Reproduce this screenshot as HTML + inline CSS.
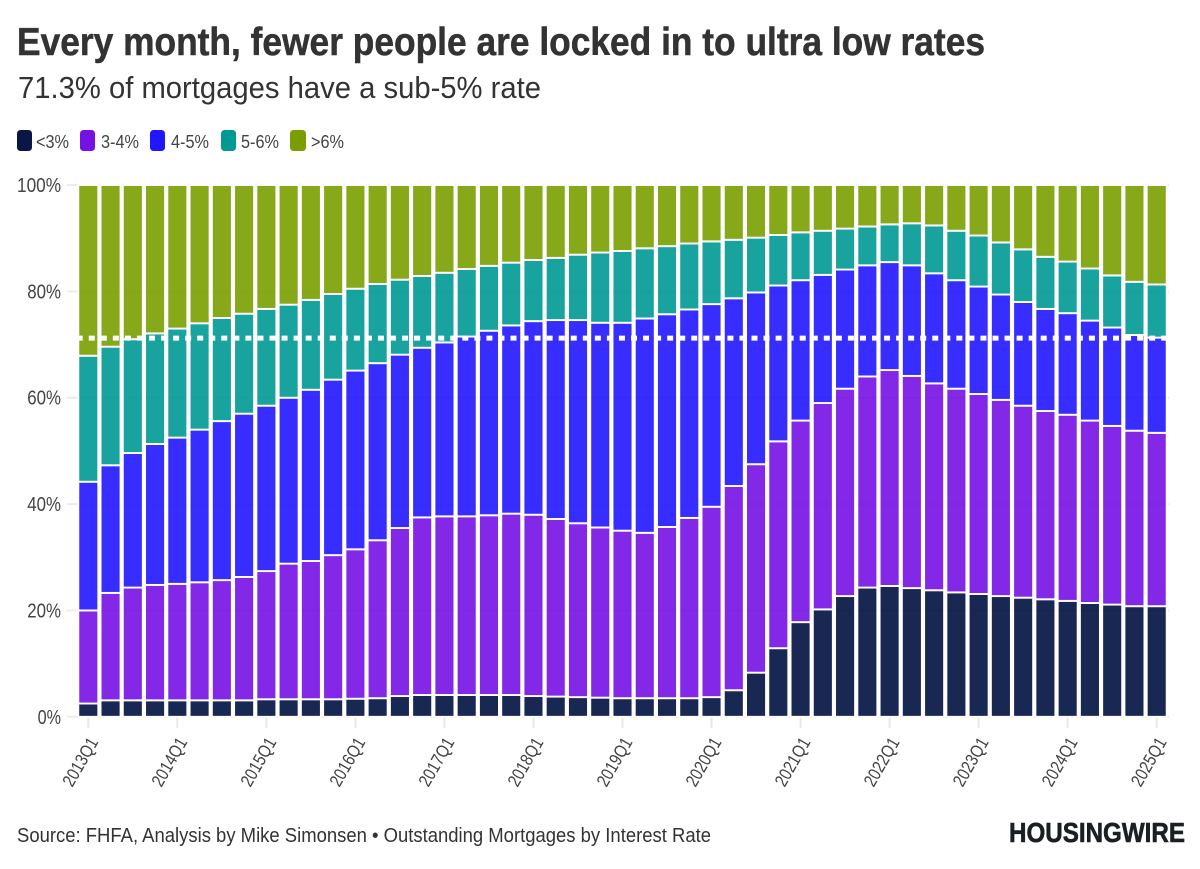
<!DOCTYPE html>
<html lang="en">
<head>
<meta charset="utf-8">
<title>Every month, fewer people are locked in to ultra low rates</title>
<style>
  html, body { margin: 0; padding: 0; background: #fff; }
  svg { display: block; }
  text { font-family: "Liberation Sans Narrow", "Liberation Sans", sans-serif; }
</style>
</head>
<body>
<svg id="chart" xmlns="http://www.w3.org/2000/svg" width="1200" height="869" viewBox="0 0 1200 869">
  <rect x="0" y="0" width="1200" height="869" fill="#ffffff"/>
  <text x="17" y="55" font-size="39" font-weight="700" fill="#333333" stroke="#333333" stroke-width="0.5" textLength="968" lengthAdjust="spacingAndGlyphs">Every month, fewer people are locked in to ultra low rates</text>
  <text x="18" y="98" font-size="31" fill="#333333" textLength="523" lengthAdjust="spacingAndGlyphs">71.3% of mortgages have a sub-5% rate</text>

  <g>
    <g>
      <rect x="17" y="130" width="15" height="21" rx="3.5" fill="#0a1746"/>
      <text x="36" y="148" font-size="18.5" fill="#444444" textLength="33" lengthAdjust="spacingAndGlyphs">&lt;3%</text>
    </g>
    <g>
      <rect x="80" y="130" width="15" height="21" rx="3.5" fill="#7611e3"/>
      <text x="101" y="148" font-size="18.5" fill="#444444" textLength="38" lengthAdjust="spacingAndGlyphs">3-4%</text>
    </g>
    <g>
      <rect x="150" y="130" width="15" height="21" rx="3.5" fill="#2116ff"/>
      <text x="171" y="148" font-size="18.5" fill="#444444" textLength="38" lengthAdjust="spacingAndGlyphs">4-5%</text>
    </g>
    <g>
      <rect x="221" y="130" width="15" height="21" rx="3.5" fill="#009993"/>
      <text x="241" y="148" font-size="18.5" fill="#444444" textLength="38" lengthAdjust="spacingAndGlyphs">5-6%</text>
    </g>
    <g>
      <rect x="290" y="130" width="16" height="21" rx="3.5" fill="#7a9e00"/>
      <text x="311" y="148" font-size="18.5" fill="#444444" textLength="33" lengthAdjust="spacingAndGlyphs">&gt;6%</text>
    </g>
  </g>

  <g id="grid"></g>
  <g id="yticks"></g>
  <g id="xticks"></g>
  <g id="bars"></g>
  <line id="refline" stroke="#ffffff" stroke-width="5" stroke-dasharray="6 6.05"/>

  <text x="17" y="842" font-size="20" fill="#333333" textLength="694" lengthAdjust="spacingAndGlyphs">Source: FHFA, Analysis by Mike Simonsen • Outstanding Mortgages by Interest Rate</text>
  <text x="1009" y="842" font-size="27.5" font-weight="700" fill="#1a2022" stroke="#1a2022" stroke-width="0.6" textLength="176" lengthAdjust="spacingAndGlyphs">HOUSINGWIRE</text>
</svg>
<script>
const categories = [
  "2013Q1","2013Q2","2013Q3","2013Q4","2014Q1","2014Q2","2014Q3","2014Q4",
  "2015Q1","2015Q2","2015Q3","2015Q4","2016Q1","2016Q2","2016Q3","2016Q4",
  "2017Q1","2017Q2","2017Q3","2017Q4","2018Q1","2018Q2","2018Q3","2018Q4",
  "2019Q1","2019Q2","2019Q3","2019Q4","2020Q1","2020Q2","2020Q3","2020Q4",
  "2021Q1","2021Q2","2021Q3","2021Q4","2022Q1","2022Q2","2022Q3","2022Q4",
  "2023Q1","2023Q2","2023Q3","2023Q4","2024Q1","2024Q2","2024Q3","2024Q4",
  "2025Q1"
];
const under3 = [2.5,3.1,3.1,3.1,3.1,3.1,3.1,3.1,3.3,3.3,3.3,3.3,3.4,3.5,3.9,4.1,4.1,4.1,4.1,4.1,3.9,3.8,3.7,3.6,3.5,3.5,3.5,3.5,3.7,5.0,8.3,12.9,17.8,20.2,22.7,24.3,24.6,24.2,23.8,23.4,23.1,22.7,22.4,22.1,21.8,21.4,21.1,20.8,20.8];
const from3to4 = [17.5,20.2,21.2,21.7,21.9,22.2,22.6,23.2,24.1,25.5,26.0,27.1,28.1,29.7,31.6,33.4,33.6,33.6,33.8,34.1,34.1,33.4,32.7,32.0,31.5,31.1,32.2,33.9,35.8,38.4,39.2,38.9,37.9,38.8,39.0,39.7,40.6,39.9,38.9,38.3,37.6,36.9,36.1,35.4,35.0,34.3,33.6,33.0,32.6];
const from4to5 = [24.2,24.0,25.3,26.5,27.5,28.7,29.9,30.7,31.1,31.2,32.2,33.0,33.6,33.3,32.6,31.9,32.7,33.8,34.7,35.4,36.4,37.4,38.2,38.5,39.1,40.3,40.0,39.2,38.1,35.3,32.3,29.3,26.4,24.1,22.4,20.9,20.3,20.8,20.7,20.4,20.2,19.8,19.5,19.2,19.1,18.8,18.5,18.0,17.9];
const from5to6 = [23.7,22.3,21.4,20.8,20.5,20.0,19.4,18.8,18.2,17.5,16.9,16.1,15.4,14.9,14.1,13.5,13.1,12.7,12.2,11.8,11.5,11.7,12.3,13.2,13.5,13.2,12.8,12.4,11.8,11.0,10.3,9.5,9.0,8.3,7.7,7.3,7.1,7.9,9.0,9.3,9.6,9.8,9.9,9.8,9.7,9.8,9.8,10.0,10.0];
const over6 = [32.1,30.4,29.0,27.9,27.0,26.0,25.0,24.2,23.3,22.5,21.6,20.5,19.5,18.6,17.8,17.1,16.5,15.8,15.2,14.6,14.1,13.7,13.1,12.7,12.4,11.9,11.5,11.0,10.6,10.3,9.9,9.4,8.9,8.6,8.2,7.8,7.4,7.2,7.6,8.6,9.5,10.8,12.1,13.5,14.4,15.7,17.0,18.2,18.7];
const yTickValues = [0, 20, 40, 60, 80, 100];
const xTickLabels = ["2013Q1","2014Q1","2015Q1","2016Q1","2017Q1","2018Q1","2019Q1","2020Q1","2021Q1","2022Q1","2023Q1","2024Q1","2025Q1"];
const referenceValue = 71.2;

const NS = "http://www.w3.org/2000/svg";
const plot = { left: 67, right: 1169, top: 185, bottom: 716.8, firstX: 88.3, lastX: 1156.7, barW: 20 };
function xScale(i) {
  return plot.firstX + (plot.lastX - plot.firstX) * i / (categories.length - 1);
}
function yScale(v) {
  return plot.bottom - (plot.bottom - plot.top) * v / 100;
}
function make(tag, attrs, parent) {
  const el = document.createElementNS(NS, tag);
  for (const k in attrs) el.setAttribute(k, attrs[k]);
  parent.appendChild(el);
  return el;
}

const gridG = document.getElementById("grid");
const yG = document.getElementById("yticks");
const xG = document.getElementById("xticks");
const barsG = document.getElementById("bars");

yTickValues.forEach(function (v) {
  const line = make("line", { x1: plot.left, x2: plot.right, y1: yScale(v), y2: yScale(v), stroke: "#ececec", "stroke-width": 2 }, gridG);
  
  
  const label = v + "%";
  const t = make("text", { x: 61, y: yScale(v) + 7, "text-anchor": "end", "font-size": 20, fill: "#444444", textLength: 10.3 * label.length + 2.8, lengthAdjust: "spacingAndGlyphs" }, yG);
  t.textContent = label;
  
  
});

xTickLabels.forEach(function (label) {
  const i = categories.indexOf(label);
  const x = xScale(i);
  const tick = make("line", { x1: x, x2: x, y1: plot.bottom, y2: plot.bottom + 11, stroke: "#e8e8e8", "stroke-width": 2 }, xG);
  
  
  const tx = x + 10.5;
  const ty = 742;
  const t = make("text", { x: tx, y: ty, "text-anchor": "end", "font-size": 18, fill: "#444444", transform: "rotate(-60 " + tx + " " + ty + ")", textLength: 53, lengthAdjust: "spacingAndGlyphs" }, xG);
  t.textContent = label;
  
  
});

const stackOrder = [
  { name: "under-3", values: under3, color: "#001040" },
  { name: "3-4", values: from3to4, color: "#7611e3" },
  { name: "4-5", values: from4to5, color: "#2116ff" },
  { name: "5-6", values: from5to6, color: "#009993" },
  { name: "over-6", values: over6, color: "#7a9e00" }
];

categories.forEach(function (cat, i) {
  let base = 0;
  stackOrder.forEach(function (series) {
    const v = series.values[i];
    const y1 = yScale(base + v);
    const y0 = yScale(base);
    const bar = make("rect", {
      x: xScale(i) - plot.barW / 2,
      y: y1,
      width: plot.barW,
      height: Math.max(0, y0 - y1),
      fill: series.color,
      "fill-opacity": 0.9,
      stroke: "#ffffff",
      "stroke-width": 1.9
    }, barsG);
    
    
    base += v;
  });
});

const ref = document.getElementById("refline");
ref.setAttribute("x1", 76.7);
ref.setAttribute("x2", 1166);
ref.setAttribute("y1", yScale(referenceValue));
ref.setAttribute("y2", yScale(referenceValue));
</script>
</body>
</html>
